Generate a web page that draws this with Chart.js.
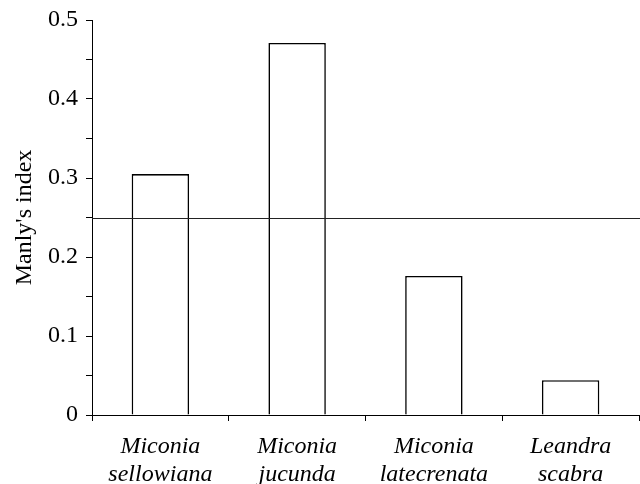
<!DOCTYPE html>
<html lang="en">
<head>
	<meta charset="UTF-8">
	<title>Manly's index</title>
	<script src="https://cdn.jsdelivr.net/npm/chart.js"></script>
	<style>
		body { margin: 0; background: #fff; font-family: 'Liberation Serif', serif; }
		#wrap { width: 640px; height: 484px; }
	</style>
</head>
<body>
	<div id="wrap"><canvas id="ctx"></canvas></div>
	<script>
		const species = [
			['Miconia', 'sellowiana'],
			['Miconia', 'jucunda'],
			['Miconia', 'latecrenata'],
			['Leandra', 'scabra']
		];
		const manly = [0.305, 0.471, 0.176, 0.044];
		const refLine = 0.25;
		const yMax = 0.5;

		const serif = "'Liberation Serif', 'Times New Roman', Times, serif";

		// horizontal reference line across the whole plot
		const refLinePlugin = {
			id: 'refLine',
			afterDatasetsDraw(chart) {
				const { ctx, chartArea, scales } = chart;
				const y = Math.round(scales.y.getPixelForValue(refLine)) + 0.5;
				ctx.save();
				ctx.strokeStyle = '#222';
				ctx.lineWidth = 1.2;
				ctx.beginPath();
				ctx.moveTo(chartArea.left, y);
				ctx.lineTo(chartArea.right + 1, y);
				ctx.stroke();
				ctx.restore();
			}
		};

		function draw() {
			new Chart(document.getElementById('ctx'), {
				type: 'bar',
				data: {
					labels: species,
					datasets: [{
						data: manly,
						backgroundColor: '#fff',
						borderColor: '#000',
						borderWidth: 1.6,
						barPercentage: 0.42,
						categoryPercentage: 1
					}]
				},
				options: {
					responsive: true,
					maintainAspectRatio: false,
					animation: false,
					layout: { padding: { top: 19, right: 1, left: 0, bottom: 0 } },
					plugins: {
						legend: { display: false },
						tooltip: { enabled: false }
					},
					scales: {
						x: {
							offset: true,
							afterFit: s => { s.height = 69; },
							grid: {
								offset: true,
								drawOnChartArea: false,
								tickLength: 6,
								color: '#000'
							},
							border: { color: '#000', width: 1 },
							ticks: {
								color: '#000',
								padding: 12,
								maxRotation: 0,
								autoSkip: false,
								font: { family: serif, size: 24, style: 'italic', lineHeight: 1.17 }
							}
						},
						y: {
							min: 0,
							max: yMax,
							afterFit: s => { s.width = 92; },
							grid: {
								drawOnChartArea: false,
								tickLength: 6,
								color: '#000'
							},
							border: { color: '#000', width: 1 },
							ticks: {
								stepSize: 0.05,
								color: '#000',
								padding: 8,
								font: { family: serif, size: 24, lineHeight: 1 },
								callback: v => {
									const k = Math.round(v * 100);
									if (k % 10 !== 0) return '';
									return k === 0 ? '0' : (k / 100).toFixed(1);
								}
							},
							title: {
								display: true,
								text: "Manly's index",
								color: '#000',
								padding: { top: 10, bottom: 4 },
								font: { family: serif, size: 24 }
							}
						}
					}
				},
				plugins: [refLinePlugin]
			});
		}

		Promise.all([
			document.fonts.load("24px 'Liberation Serif'"),
			document.fonts.load("italic 24px 'Liberation Serif'")
		]).then(draw, draw);
	</script>
</body>
</html>
